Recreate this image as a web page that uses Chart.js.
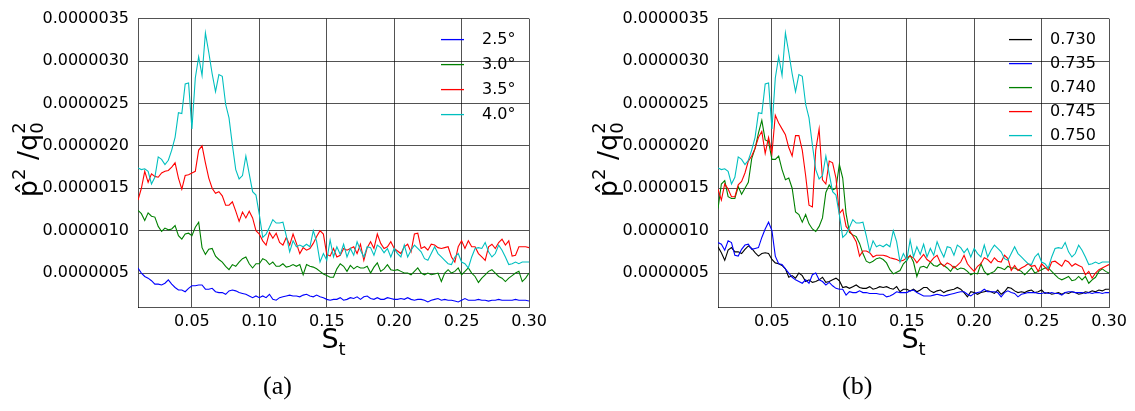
<!DOCTYPE html>
<html>
<head>
<meta charset="utf-8">
<script src="https://cdn.jsdelivr.net/npm/chart.js@4.4.1/dist/chart.umd.min.js"></script>
<style>
  body { margin: 0; background: #fff; width: 1135px; height: 411px; position: relative; overflow: hidden; }
  .panel { position: absolute; top: 0; width: 560px; height: 411px; }
  .panel canvas { display: block; }
  .caption { position: absolute; top: 371px; font-family: "Liberation Serif", serif; font-size: 26px; color: #000; line-height: 30px; }
</style>
</head>
<body>
<div class="panel" style="left:0"><canvas id="chartA" width="560" height="411"></canvas></div>
<div class="panel" style="left:575px"><canvas id="chartB" width="560" height="411"></canvas></div>
<div class="caption" style="left:263px">(a)</div>
<div class="caption" style="left:842px">(b)</div>
<script>
// Strouhal number samples (shared by both panels)
const st = [
  0.0100,0.0125,0.0150,0.0175,0.0200,0.0225,0.0250,0.0275,0.0300,0.0325,
  0.0350,0.0375,0.0400,0.0425,0.0450,0.0475,0.0500,0.0525,0.0550,0.0575,
  0.0600,0.0625,0.0650,0.0675,0.0700,0.0725,0.0750,0.0775,0.0800,0.0825,
  0.0850,0.0875,0.0900,0.0925,0.0950,0.0975,0.1000,0.1025,0.1050,0.1075,
  0.1100,0.1125,0.1150,0.1175,0.1200,0.1225,0.1250,0.1275,0.1300,0.1325,
  0.1350,0.1375,0.1400,0.1425,0.1450,0.1475,0.1500,0.1525,0.1550,0.1575,
  0.1600,0.1625,0.1650,0.1675,0.1700,0.1725,0.1750,0.1775,0.1800,0.1825,
  0.1850,0.1875,0.1900,0.1925,0.1950,0.1975,0.2000,0.2025,0.2050,0.2075,
  0.2100,0.2125,0.2150,0.2175,0.2200,0.2225,0.2250,0.2275,0.2300,0.2325,
  0.2350,0.2375,0.2400,0.2425,0.2450,0.2475,0.2500,0.2525,0.2550,0.2575,
  0.2600,0.2625,0.2650,0.2675,0.2700,0.2725,0.2750,0.2775,0.2800,0.2825,
  0.2850,0.2875,0.2900,0.2925,0.2950,0.2975,0.3000
];

// values below are p^2/q0^2 in units of 1e-6
// panel (a): angle of attack
const alpha25 = [
  0.56,0.50,0.46,0.44,0.41,0.37,0.37,0.36,0.38,0.42,
  0.37,0.33,0.30,0.30,0.28,0.32,0.35,0.35,0.36,0.36,
  0.31,0.31,0.32,0.28,0.27,0.27,0.25,0.29,0.30,0.29,
  0.27,0.26,0.25,0.23,0.21,0.23,0.21,0.23,0.21,0.25,
  0.19,0.18,0.21,0.22,0.23,0.24,0.23,0.23,0.22,0.24,
  0.25,0.23,0.22,0.24,0.22,0.21,0.19,0.18,0.19,0.19,
  0.21,0.18,0.19,0.21,0.20,0.22,0.19,0.22,0.23,0.20,
  0.19,0.21,0.19,0.19,0.21,0.20,0.19,0.19,0.20,0.19,
  0.21,0.19,0.18,0.19,0.19,0.18,0.16,0.18,0.19,0.20,
  0.18,0.19,0.18,0.18,0.17,0.16,0.18,0.20,0.18,0.18,
  0.18,0.19,0.18,0.18,0.17,0.18,0.18,0.19,0.18,0.18,
  0.18,0.18,0.19,0.18,0.18,0.18,0.17
];
const alpha30 = [
  1.24,1.20,1.12,1.21,1.17,1.16,1.05,0.99,1.03,1.01,
  1.02,1.06,0.94,0.90,0.96,0.97,0.94,1.04,1.10,0.80,
  0.72,0.78,0.79,0.70,0.66,0.63,0.58,0.54,0.60,0.58,
  0.63,0.67,0.69,0.61,0.56,0.61,0.61,0.67,0.65,0.60,
  0.63,0.58,0.58,0.61,0.57,0.58,0.60,0.58,0.60,0.48,
  0.60,0.58,0.57,0.55,0.52,0.49,0.47,0.45,0.45,0.55,
  0.61,0.58,0.52,0.59,0.55,0.58,0.56,0.56,0.58,0.50,
  0.57,0.62,0.52,0.55,0.60,0.54,0.53,0.54,0.52,0.50,
  0.50,0.48,0.52,0.56,0.50,0.48,0.50,0.48,0.49,0.50,
  0.40,0.50,0.54,0.50,0.52,0.56,0.48,0.52,0.56,0.50,
  0.46,0.39,0.44,0.48,0.52,0.54,0.50,0.46,0.44,0.40,
  0.44,0.47,0.50,0.52,0.40,0.44,0.50
];
const alpha35 = [
  1.36,1.50,1.70,1.57,1.67,1.64,1.63,1.68,1.70,1.71,
  1.75,1.80,1.62,1.49,1.65,1.66,1.68,1.70,1.95,2.00,
  1.80,1.62,1.50,1.44,1.46,1.41,1.30,1.30,1.34,1.23,
  1.11,1.22,1.15,1.23,1.15,1.00,0.96,0.88,0.83,0.98,
  0.91,0.97,0.86,0.83,0.92,0.83,0.96,0.85,0.73,0.80,
  0.77,0.79,0.85,0.93,1.00,0.96,0.72,0.70,0.79,0.69,
  0.71,0.79,0.77,0.79,0.81,0.73,0.84,0.65,0.80,0.87,
  0.79,0.96,0.85,0.79,0.81,0.87,0.79,0.76,0.73,0.81,
  0.84,0.75,0.96,0.97,0.79,0.81,0.77,0.84,0.83,0.80,
  0.79,0.80,0.81,0.69,0.63,0.81,0.88,0.79,0.88,0.81,
  0.81,0.73,0.69,0.65,0.81,0.84,0.79,0.86,0.90,0.83,
  0.88,0.70,0.71,0.81,0.81,0.81,0.80
];
const alpha40 = [
  1.74,1.72,1.73,1.70,1.55,1.63,1.87,1.84,1.78,1.83,
  1.95,2.10,2.39,2.38,2.73,2.74,2.20,2.80,3.05,2.83,
  3.33,3.10,2.85,2.64,2.84,2.82,2.49,2.33,2.01,1.72,
  1.61,1.65,1.88,1.67,1.46,1.42,1.19,0.92,0.96,1.04,
  1.13,1.09,1.09,1.10,0.94,0.75,0.88,0.81,0.83,0.81,
  0.84,0.81,1.00,0.87,0.63,0.73,0.65,0.89,0.69,0.81,
  0.72,0.84,0.69,0.79,0.71,0.87,0.77,0.69,0.81,0.80,
  0.71,0.83,0.80,0.74,0.79,0.69,0.79,0.73,0.69,0.83,
  0.69,0.77,0.83,0.79,0.75,0.67,0.65,0.73,0.81,0.73,
  0.69,0.65,0.61,0.60,0.69,0.73,0.63,0.61,0.56,0.69,
  0.79,0.80,0.79,0.86,0.75,0.69,0.73,0.83,0.77,0.69,
  0.60,0.61,0.63,0.61,0.63,0.63,0.63
];

// panel (b): Mach number
const mach730 = [
  0.81,0.74,0.65,0.77,0.80,0.75,0.75,0.73,0.78,0.82,
  0.79,0.74,0.70,0.73,0.74,0.73,0.66,0.62,0.61,0.59,
  0.55,0.45,0.47,0.44,0.50,0.47,0.40,0.42,0.39,0.40,
  0.42,0.45,0.39,0.40,0.42,0.44,0.41,0.33,0.34,0.32,
  0.34,0.36,0.33,0.32,0.32,0.34,0.31,0.32,0.34,0.33,
  0.34,0.32,0.31,0.34,0.28,0.31,0.31,0.29,0.31,0.28,
  0.30,0.33,0.33,0.29,0.27,0.29,0.30,0.27,0.29,0.30,
  0.31,0.33,0.31,0.27,0.22,0.28,0.27,0.25,0.27,0.28,
  0.29,0.28,0.26,0.30,0.25,0.28,0.33,0.32,0.29,0.27,
  0.28,0.27,0.29,0.30,0.27,0.28,0.30,0.26,0.27,0.25,
  0.26,0.27,0.25,0.27,0.26,0.28,0.27,0.25,0.26,0.28,
  0.27,0.29,0.28,0.30,0.29,0.31,0.31
];
const mach735 = [
  0.86,0.84,0.77,0.88,0.86,0.71,0.70,0.78,0.83,0.84,
  0.78,0.79,0.80,0.92,1.02,1.10,1.00,0.70,0.61,0.60,
  0.55,0.50,0.45,0.42,0.40,0.38,0.42,0.38,0.48,0.50,
  0.42,0.40,0.36,0.39,0.35,0.32,0.31,0.31,0.24,0.28,
  0.27,0.27,0.29,0.27,0.27,0.26,0.26,0.26,0.25,0.25,
  0.22,0.23,0.25,0.28,0.27,0.27,0.27,0.29,0.30,0.27,
  0.25,0.23,0.23,0.23,0.24,0.25,0.24,0.23,0.24,0.25,
  0.26,0.27,0.28,0.28,0.25,0.23,0.26,0.27,0.28,0.31,
  0.28,0.28,0.28,0.27,0.22,0.27,0.29,0.27,0.26,0.22,
  0.25,0.26,0.27,0.27,0.27,0.26,0.26,0.27,0.26,0.27,
  0.26,0.26,0.24,0.27,0.28,0.28,0.27,0.27,0.27,0.26,
  0.27,0.26,0.27,0.27,0.26,0.27,0.27
];
const mach740 = [
  1.26,1.55,1.59,1.40,1.38,1.38,1.52,1.43,1.50,1.57,
  1.85,1.97,2.15,2.30,2.07,2.05,1.84,1.84,1.88,1.72,
  1.60,1.62,1.50,1.22,1.19,1.10,1.19,1.08,1.02,0.99,
  1.05,1.15,1.45,1.54,1.48,1.50,1.78,1.62,1.20,0.98,
  0.95,0.93,0.85,0.73,0.64,0.62,0.64,0.67,0.68,0.66,
  0.62,0.54,0.49,0.51,0.53,0.61,0.65,0.71,0.63,0.46,
  0.57,0.58,0.56,0.63,0.59,0.58,0.61,0.59,0.56,0.52,
  0.58,0.54,0.56,0.55,0.52,0.48,0.50,0.49,0.61,0.52,
  0.48,0.50,0.52,0.57,0.56,0.54,0.58,0.56,0.56,0.54,
  0.52,0.48,0.52,0.56,0.50,0.52,0.54,0.56,0.56,0.52,
  0.48,0.44,0.42,0.44,0.46,0.41,0.42,0.46,0.42,0.46,
  0.38,0.42,0.45,0.52,0.55,0.52,0.50
];
const mach745 = [
  1.49,1.36,1.55,1.49,1.40,1.40,1.54,1.58,1.68,1.82,
  1.88,1.97,2.10,2.17,1.91,2.10,1.91,2.36,2.27,2.20,
  2.13,1.98,1.88,2.12,2.12,1.95,1.65,1.30,1.28,1.95,
  2.20,1.60,1.55,1.82,1.80,1.62,1.20,1.25,1.05,1.00,
  0.94,0.87,0.70,0.76,0.76,0.74,0.69,0.71,0.71,0.71,
  0.70,0.68,0.67,0.66,0.64,0.65,0.68,0.70,0.68,0.62,
  0.67,0.72,0.66,0.63,0.68,0.71,0.62,0.58,0.62,0.60,
  0.56,0.59,0.63,0.71,0.61,0.56,0.52,0.58,0.61,0.68,
  0.66,0.62,0.68,0.64,0.63,0.71,0.67,0.53,0.59,0.53,
  0.56,0.58,0.61,0.58,0.59,0.52,0.61,0.57,0.53,0.63,
  0.64,0.61,0.58,0.65,0.63,0.58,0.61,0.59,0.57,0.48,
  0.52,0.44,0.50,0.54,0.56,0.58,0.60
];
const mach750 = alpha40; // same run as 4.0 deg

const yTicks = [0.5, 1.0, 1.5, 2.0, 2.5, 3.0, 3.5];
const xTicks = [0.05, 0.10, 0.15, 0.20, 0.25, 0.30];

const GRID = 'rgba(0,0,0,0.68)';
const SANS = '"DejaVu Sans", sans-serif';

function drawText(ctx, parts, x0) {
  let x = x0;
  parts.forEach(p => {
    ctx.font = p.font;
    ctx.fillText(p.text, x, p.dy || 0);
    if (!p.stack) x += ctx.measureText(p.text).width;
  });
}

const axisTitles = {
  id: 'axisTitles',
  afterDraw(chart) {
    const { ctx, chartArea } = chart;
    const big = '27px ' + SANS, small = '18px ' + SANS;
    ctx.save();
    ctx.fillStyle = '#000';
    ctx.textBaseline = 'alphabetic';
    // y title: p-hat^2 / q_0^2
    ctx.save();
    ctx.translate(chartArea.left - 101, (chartArea.top + chartArea.bottom) / 2 - 3);
    ctx.rotate(-Math.PI / 2);
    const yParts = [
      { text: 'p\u0302', font: big },
      { text: '2', font: small, dy: -12 },
      { text: ' /q', font: big },
      { text: '0', font: small, dy: 6, stack: true },
      { text: '2', font: small, dy: -12 }
    ];
    let w = 0;
    yParts.forEach(p => { ctx.font = p.font; if (!p.stack) w += ctx.measureText(p.text).width; });
    drawText(ctx, yParts, -w / 2);
    ctx.restore();
    // x title: S_t
    const xParts = [
      { text: 'S', font: big },
      { text: 't', font: small, dy: 7 }
    ];
    ctx.font = big;
    const ws = ctx.measureText('S').width;
    ctx.font = small;
    const wt = ctx.measureText('t').width;
    ctx.save();
    ctx.translate(0, 348);
    drawText(ctx, xParts, (chartArea.left + chartArea.right) / 2 - (ws + wt) / 2);
    ctx.restore();
    ctx.restore();
  }
};

const innerLegend = {
  id: 'innerLegend',
  afterDraw(chart, args, opts) {
    const { ctx, chartArea } = chart;
    ctx.save();
    ctx.font = '16px ' + SANS;
    ctx.textBaseline = 'middle';
    chart.data.datasets.forEach((ds, i) => {
      const y = chartArea.top + 21 + i * opts.gap;
      ctx.strokeStyle = ds.borderColor;
      ctx.lineWidth = 1.3;
      ctx.beginPath();
      ctx.moveTo(chartArea.right - opts.line, y);
      ctx.lineTo(chartArea.right - opts.line + 23, y);
      ctx.stroke();
      ctx.fillStyle = '#000';
      ctx.fillText(ds.label, chartArea.right - opts.text, y);
    });
    ctx.restore();
  }
};

function makePanel(id, labels, colors, series, left, right, legendOpts) {
  const n = labels.length;
  const datasets = labels.map((lab, i) => ({
    label: lab,
    data: st.map((x, k) => ({ x: x, y: series[i][k] * 1e-6 })),
    borderColor: colors[i],
    borderWidth: 1.1,
    pointRadius: 0,
    tension: 0,
    fill: false,
    order: n - 1 - i
  }));
  return new Chart(document.getElementById(id), {
    type: 'line',
    data: { datasets },
    plugins: [axisTitles, innerLegend],
    options: {
      responsive: false,
      animation: false,
      devicePixelRatio: 1,
      layout: { padding: { left: 0, top: 12, right: right, bottom: 0 } },
      plugins: {
        legend: { display: false },
        tooltip: { enabled: false },
        innerLegend: legendOpts
      },
      scales: {
        x: {
          type: 'linear',
          min: 0.01,
          max: 0.30,
          afterFit: s => { s.height = 104; },
          afterBuildTicks: s => { s.ticks = xTicks.map(v => ({ value: v })); },
          grid: { color: GRID, lineWidth: 1, drawTicks: false },
          border: { color: GRID, width: 1 },
          ticks: {
            color: '#000', padding: 5, maxRotation: 0, autoSkip: false,
            font: { family: SANS, size: 16 },
            callback: v => v.toFixed(2)
          }
        },
        y: {
          type: 'linear',
          min: 0.1e-6,
          max: 3.5e-6,
          afterFit: s => { s.width = left; },
          afterBuildTicks: s => { s.ticks = yTicks.map(v => ({ value: v * 1e-6 })); },
          grid: { color: GRID, lineWidth: 1, drawTicks: false },
          border: { color: GRID, width: 1 },
          ticks: {
            color: '#000', padding: 9, autoSkip: false,
            font: { family: SANS, size: 16 },
            callback: v => v.toFixed(7)
          }
        }
      }
    }
  });
}

makePanel('chartA',
  ['2.5\u00b0', '3.0\u00b0', '3.5\u00b0', '4.0\u00b0'],
  ['#0000ff', '#008000', '#ff0000', '#00bfbf'],
  [alpha25, alpha30, alpha35, alpha40],
  138, 31, { gap: 25, line: 88, text: 47 });

makePanel('chartB',
  ['0.730', '0.735', '0.740', '0.745', '0.750'],
  ['#000000', '#0000ff', '#008000', '#ff0000', '#00bfbf'],
  [mach730, mach735, mach740, mach745, mach750],
  143, 26, { gap: 24, line: 100, text: 59 });
</script>
</body>
</html>
